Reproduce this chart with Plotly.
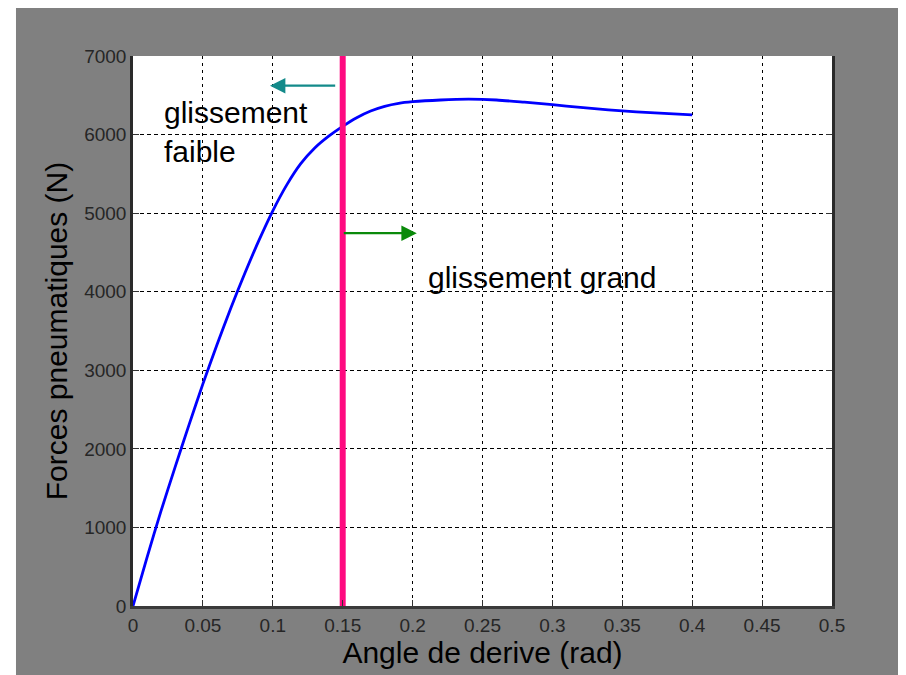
import plotly.graph_objects as go

# ---- data ----
angle_rad = [0, 0.01, 0.02, 0.03, 0.04, 0.05, 0.06, 0.07, 0.08, 0.09, 0.10,
             0.11, 0.12, 0.13, 0.14, 0.15, 0.16, 0.17, 0.18, 0.19, 0.20,
             0.22, 0.24, 0.26, 0.28, 0.30, 0.32, 0.34, 0.36, 0.38, 0.40]
force_N = [0, 617, 1207, 1762, 2302, 2827, 3322, 3792, 4235, 4650, 5030,
           5360, 5630, 5830, 5980, 6105, 6215, 6300, 6360, 6398, 6418,
           6440, 6450, 6440, 6412, 6380, 6345, 6315, 6290, 6270, 6250]

limit_x = [0.15, 0.15]
limit_y = [0, 7000]

x_ticks = [0, 0.05, 0.1, 0.15, 0.2, 0.25, 0.3, 0.35, 0.4, 0.45, 0.5]
x_ticktext = ["0", "0.05", "0.1", "0.15", "0.2", "0.25", "0.3", "0.35", "0.4", "0.45", "0.5"]
y_ticks = [0, 1000, 2000, 3000, 4000, 5000, 6000, 7000]
y_ticktext = ["0", "1000", "2000", "3000", "4000", "5000", "6000", "7000"]

# arrows: (tail x, tail y, head x, head y)
arrow_left = (0.1457, 6622, 0.098, 6622)
arrow_right = (0.1497, 4745, 0.203, 4745)

label_faible = "glissement<br>faible"
label_grand = "glissement grand"
x_title = "Angle de derive (rad)"
y_title = "Forces pneumatiques (N)"

FONT = "Liberation Sans, Arial, sans-serif"

fig = go.Figure()
fig.add_trace(go.Scatter(x=angle_rad, y=force_N, mode="lines",
                         line=dict(color="#0000ff", width=2.8, shape="spline", smoothing=0.8),
                         showlegend=False, hoverinfo="skip"))
fig.add_trace(go.Scatter(x=limit_x, y=limit_y, mode="lines",
                         line=dict(color="#ff0a80", width=6),
                         showlegend=False, hoverinfo="skip"))

for (tx, ty, hx, hy), col in [(arrow_left, "#138a8a"), (arrow_right, "#0a8a0a")]:
    fig.add_annotation(x=hx, y=hy, ax=tx, ay=ty, xref="x", yref="y",
                       axref="x", ayref="y", text="", showarrow=True,
                       arrowhead=2, arrowsize=1.4, arrowwidth=2.2, arrowcolor=col)

fig.add_annotation(x=0.0205, y=6036, xref="x", yref="y", text=label_faible,
                   showarrow=False, xanchor="left", yanchor="middle", align="left",
                   font=dict(family=FONT, size=30, color="black"))
fig.add_annotation(x=0.2097, y=4185, xref="x", yref="y", text=label_grand,
                   showarrow=False, xanchor="left", yanchor="middle", align="left",
                   font=dict(family=FONT, size=30, color="black"))

axis_common = dict(
    showgrid=True, gridcolor="black", gridwidth=1.2,
    zeroline=False, showline=True,
    ticks="inside", ticklen=6, tickcolor="#333333",
    tickfont=dict(family=FONT, size=19, color="#262626"),
)

fig.update_xaxes(range=[0, 0.5], tickmode="array", tickvals=x_ticks, ticktext=x_ticktext,
                 griddash="3px,4px", linecolor="#3a3a3a", linewidth=3,
                 title=dict(text=x_title, font=dict(family=FONT, size=30, color="black"),
                            standoff=0),
                 **axis_common)
fig.update_yaxes(range=[0, 7000], tickmode="array", tickvals=y_ticks, ticktext=y_ticktext,
                 griddash="4px,3px", linecolor="#2a2a2a", linewidth=2.5, mirror="ticks",
                 title=dict(text=y_title, font=dict(family=FONT, size=30, color="black"),
                            standoff=8),
                 **axis_common)

# thin white strip at the left border (outside the gray frame)
fig.add_shape(type="rect", xref="paper", yref="paper", x0=-0.2, x1=-0.1674,
              y0=-0.2, y1=1.2, fillcolor="white", line=dict(width=0))

fig.update_layout(
    width=898, height=667,
    margin=dict(l=125, r=74, t=48, b=69, pad=0),
    paper_bgcolor="#808080", plot_bgcolor="white",
    font=dict(family=FONT, color="black"),
)

fig.write_html("out.html")
